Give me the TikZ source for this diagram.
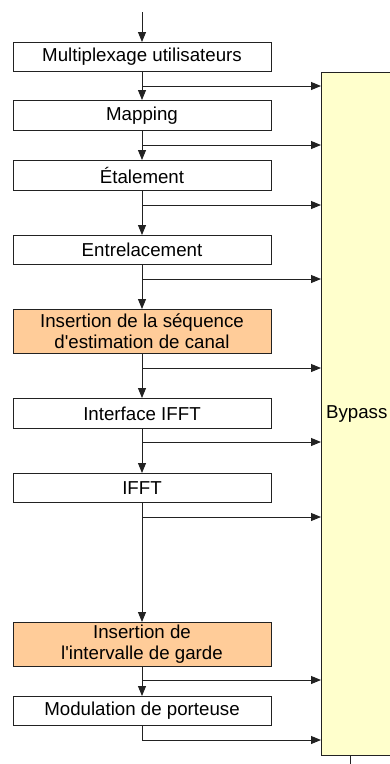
\documentclass[tikz,border=0pt]{standalone}
\usepackage{fontspec}
\setmainfont{Liberation Sans}
\usetikzlibrary{arrows.meta}
\definecolor{peach}{HTML}{FFCC99}
\definecolor{paleyellow}{HTML}{FFFFCC}
\definecolor{linec}{HTML}{222222}
\begin{document}
\begin{tikzpicture}[x=1pt,y=-1pt,
  font=\fontsize{18.7}{21}\selectfont,
  blk/.style={draw=linec, line width=0.9pt, fill=white, minimum width=258pt, inner sep=0pt, align=center, anchor=north},
  hl/.style={blk, fill=peach},
  arr/.style={draw=linec, line width=0.9pt, -{Triangle[length=10pt,width=8pt]}},
  ln/.style={draw=linec, line width=0.9pt}]
\useasboundingbox (0,0) rectangle (389,764);
% bypass block
\node[draw=linec, line width=0.9pt, fill=paleyellow, minimum width=70.5pt, minimum height=683pt, inner sep=0pt, anchor=north west] (bypass) at (321,72) {Bypass};
% chain blocks
\node[blk, minimum height=29pt] (b1) at (142,42) {Multiplexage utilisateurs};
\node[blk, minimum height=30pt] (b2) at (142,100) {Mapping};
\node[blk, minimum height=30pt] (b3) at (142,160) {Étalement};
\node[blk, minimum height=29pt] (b4) at (142,235) {Entrelacement};
\node[hl, minimum height=44pt] (b5) at (142,309) {Insertion de la séquence\\d\textquotesingle estimation de canal};
\node[blk, minimum height=30pt] (b6) at (142,398) {Interface IFFT};
\node[blk, minimum height=29pt] (b7) at (142,473) {IFFT};
\node[hl, minimum height=44pt] (b8) at (142,622) {Insertion de\\l\textquotesingle intervalle de garde};
\node[blk, minimum height=29pt] (b9) at (142,696) {Modulation de porteuse};
% junction points
\coordinate (in) at (142,12);
\coordinate (j1) at (142,86);
\coordinate (j2) at (142,145);
\coordinate (j3) at (142,205);
\coordinate (j4) at (142,279);
\coordinate (j5) at (142,368);
\coordinate (j6) at (142,442);
\coordinate (j7) at (142,517);
\coordinate (j8) at (142,680);
\coordinate (j9) at (142,740);
\coordinate (out) at (350,764);
% main chain
\draw[arr] (in) -- (b1);
\draw[arr] (b1) -- (b2);
\draw[arr] (b2) -- (b3);
\draw[arr] (b3) -- (b4);
\draw[arr] (b4) -- (b5);
\draw[arr] (b5) -- (b6);
\draw[arr] (b6) -- (b7);
\draw[arr] (b7) -- (b8);
\draw[arr] (b8) -- (b9);
% bypass branches
\foreach \j in {j1,j2,j3,j4,j5,j6,j7,j8}
  \draw[arr] (\j) -- (\j -| bypass.west);
\draw[arr] (b9.south) |- (j9 -| bypass.west);
\draw[ln] (out |- bypass.south) -- (out);
\end{tikzpicture}
\end{document}
